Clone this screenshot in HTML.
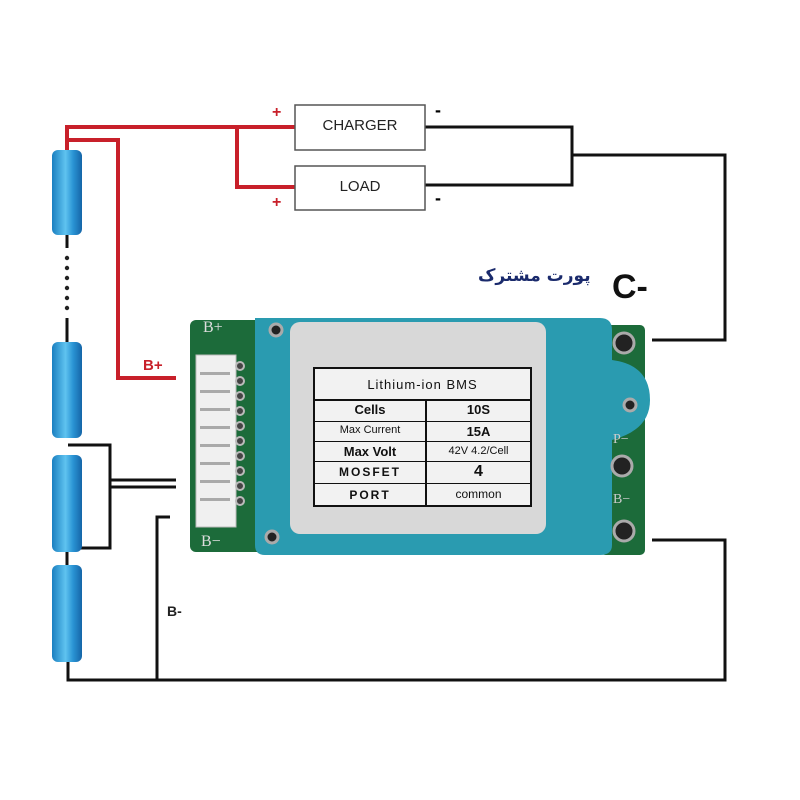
<!DOCTYPE html>
<html><head><meta charset="utf-8"><style>
body{margin:0;width:800px;height:800px;background:#fff;position:relative;overflow:hidden;font-family:"Liberation Sans",sans-serif}
.a{position:absolute}
.bat{position:absolute;left:52px;width:30px;border-radius:6px;background:linear-gradient(90deg,#1a7fc0,#5fc3f0 45%,#2a94d4 70%,#1565a8)}
.tbl{position:absolute;left:313px;top:367px;width:219px;height:140px;border:2px solid #111;box-sizing:border-box;background:#f2f2f2}
.tbl div{position:absolute;font-weight:bold;color:#111;text-align:center}
</style></head><body>
<svg class="a" style="left:0;top:0" width="800" height="800">
<g fill="none" stroke="#c8202a" stroke-width="4">
<polyline points="67,150 67,127 295,127"/>
<polyline points="69,140 118,140 118,378 176,378"/>
<polyline points="237,127 237,187 295,187"/>
</g>
<g fill="none" stroke="#111" stroke-width="3">
<polyline points="425,127 572,127 572,185 425,185"/>
<polyline points="572,155 725,155 725,340 652,340"/>
<polyline points="652,540 725,540 725,680 68,680 68,662"/>
<polyline points="170,517 157,517 157,680"/>
<polyline points="68,445 110,445 110,548 68,548"/>
<line x1="110" y1="480" x2="176" y2="480"/>
<line x1="110" y1="487" x2="176" y2="487"/>
<line x1="67" y1="235" x2="67" y2="248"/>
<line x1="67" y1="318" x2="67" y2="342"/>
<line x1="67" y1="552" x2="67" y2="565"/>
</g>
<g fill="#222"><circle cx="67" cy="258" r="2.2"/><circle cx="67" cy="268" r="2.2"/><circle cx="67" cy="278" r="2.2"/><circle cx="67" cy="288" r="2.2"/><circle cx="67" cy="298" r="2.2"/><circle cx="67" cy="308" r="2.2"/></g>
<rect x="295" y="105" width="130" height="45" fill="#fff" stroke="#555" stroke-width="1.5"/>
<rect x="295" y="166" width="130" height="44" fill="#fff" stroke="#555" stroke-width="1.5"/>
<rect x="190" y="320" width="75" height="232" rx="6" fill="#1c6b3a"/>
<rect x="600" y="325" width="45" height="230" rx="5" fill="#1c6b3a"/>
<path d="M255 318 H600 Q612 318 612 330 V360 Q650 365 650 400 Q650 430 612 440 V545 Q612 555 600 555 H265 Q255 555 255 545 Z" fill="#2a9bb0"/>
<rect x="290" y="322" width="256" height="212" rx="10" fill="#d8d8d8"/>
<rect x="196" y="355" width="40" height="172" fill="#f0f0f0" stroke="#bbb"/>
<g fill="#aaa"><rect x="200" y="372" width="30" height="3"/><rect x="200" y="390" width="30" height="3"/><rect x="200" y="408" width="30" height="3"/><rect x="200" y="426" width="30" height="3"/><rect x="200" y="444" width="30" height="3"/><rect x="200" y="462" width="30" height="3"/><rect x="200" y="480" width="30" height="3"/><rect x="200" y="498" width="30" height="3"/></g>
<g fill="#444" stroke="#bbb" stroke-width="2"><circle cx="240" cy="366" r="4"/><circle cx="240" cy="381" r="4"/><circle cx="240" cy="396" r="4"/><circle cx="240" cy="411" r="4"/><circle cx="240" cy="426" r="4"/><circle cx="240" cy="441" r="4"/><circle cx="240" cy="456" r="4"/><circle cx="240" cy="471" r="4"/><circle cx="240" cy="486" r="4"/><circle cx="240" cy="501" r="4"/></g>
<g fill="#222" stroke="#aaa" stroke-width="3"><circle cx="276" cy="330" r="6"/><circle cx="272" cy="537" r="6"/><circle cx="630" cy="405" r="6"/><circle cx="624" cy="343" r="10"/><circle cx="622" cy="466" r="10"/><circle cx="624" cy="531" r="10"/></g>
</svg>
<div class="a" style="left:203px;top:319px;color:#ddd;font:16px 'Liberation Serif',serif">B+</div>
<div class="a" style="left:201px;top:533px;color:#ddd;font:16px 'Liberation Serif',serif">B−</div>
<div class="a" style="left:613px;top:432px;color:#ccc;font:14px 'Liberation Serif',serif">P−</div>
<div class="a" style="left:613px;top:492px;color:#ccc;font:14px 'Liberation Serif',serif">B−</div>
<div class="tbl">
<div style="left:0;top:8px;width:215px;font-size:13px;font-weight:normal;letter-spacing:1px">Lithium-ion BMS</div>
<div style="left:0;top:30px;width:215px;border-top:2px solid #111"></div>
<div style="left:0;top:52px;width:215px;border-top:1px solid #111"></div>
<div style="left:0;top:72px;width:215px;border-top:1px solid #111"></div>
<div style="left:0;top:92px;width:215px;border-top:1px solid #111"></div>
<div style="left:0;top:114px;width:215px;border-top:1px solid #111"></div>
<div style="left:110px;top:30px;height:108px;border-left:2px solid #111"></div>
<div style="left:0;top:33px;width:110px;font-size:13px">Cells</div><div style="left:112px;top:33px;width:103px;font-size:13px">10S</div>
<div style="left:0;top:55px;width:110px;font-size:11px;font-weight:normal">Max Current</div><div style="left:112px;top:55px;width:103px;font-size:13px">15A</div>
<div style="left:0;top:75px;width:110px;font-size:13px">Max Volt</div><div style="left:112px;top:76px;width:103px;font-size:11px;font-weight:normal">42V 4.2/Cell</div>
<div style="left:0;top:96px;width:110px;font-size:12px;letter-spacing:2px">MOSFET</div><div style="left:112px;top:94px;width:103px;font-size:16px">4</div>
<div style="left:0;top:119px;width:110px;font-size:12px;letter-spacing:2px">PORT</div><div style="left:112px;top:118px;width:103px;font-size:12px;font-weight:normal">common</div>
</div>
<div class="bat" style="top:150px;height:85px"></div>
<div class="bat" style="top:342px;height:96px"></div>
<div class="bat" style="top:455px;height:97px"></div>
<div class="bat" style="top:565px;height:97px"></div>
<div class="a" style="left:295px;top:117px;width:130px;text-align:center;font-size:15px;color:#222">CHARGER</div>
<div class="a" style="left:295px;top:178px;width:130px;text-align:center;font-size:15px;color:#222">LOAD</div>
<div class="a" style="left:272px;top:104px;color:#c8202a;font-weight:bold;font-size:16px">+</div>
<div class="a" style="left:272px;top:194px;color:#c8202a;font-weight:bold;font-size:16px">+</div>
<div class="a" style="left:435px;top:100px;font-weight:bold;font-size:18px">-</div>
<div class="a" style="left:435px;top:188px;font-weight:bold;font-size:18px">-</div>
<div class="a" style="left:143px;top:357px;color:#c8202a;font-weight:bold;font-size:15px">B+</div>
<div class="a" style="left:167px;top:603px;color:#222;font-weight:bold;font-size:14px">B-</div>
<div class="a" style="left:612px;top:268px;font-weight:bold;font-size:34px;color:#111">C-</div>
<div class="a" style="left:478px;top:266px;font:bold 17px 'DejaVu Sans',sans-serif;color:#1a2a6c" dir="rtl">پورت مشترک</div>
</body></html>
